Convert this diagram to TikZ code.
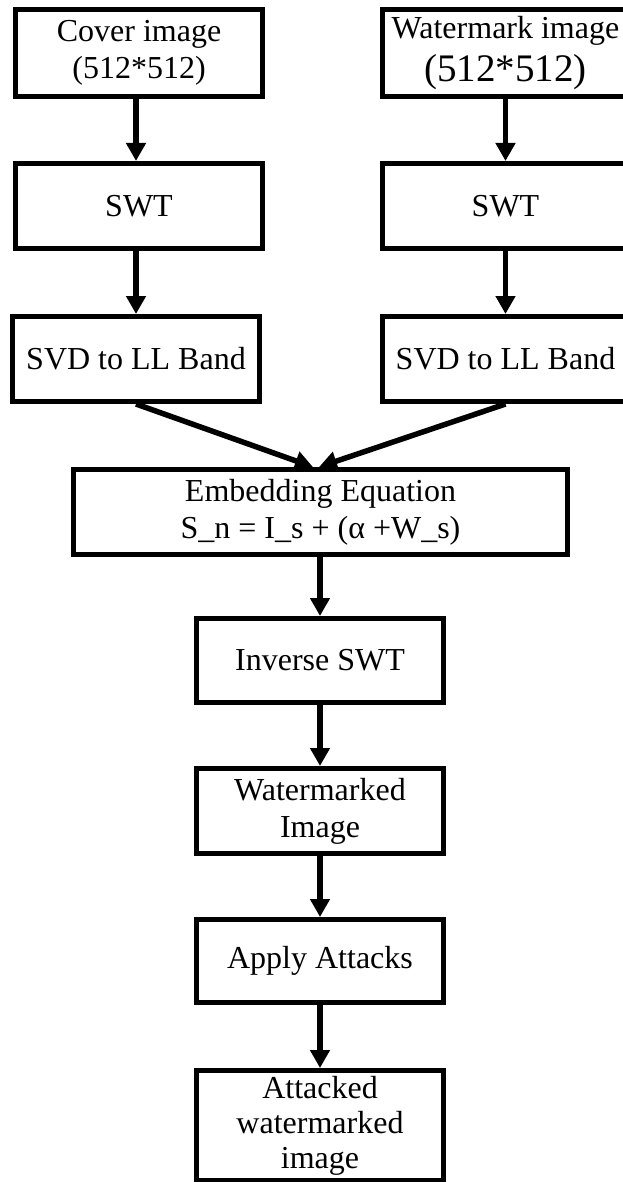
\documentclass[tikz,border=0pt]{standalone}
\usepackage{fontspec}
\setmainfont{Liberation Serif}
\usetikzlibrary{arrows.meta}
\tikzset{
  box/.style={draw=black, line width=5pt, inner sep=0pt, align=center,
    minimum width=247pt, font=\fontsize{32}{37}\selectfont},
  flow/.style={line width=5.5pt, -{Triangle[length=18pt,width=19pt]}}
}
\begin{document}
\begin{tikzpicture}[x=1pt,y=-1pt]
\useasboundingbox (0,0) rectangle (623,1182);
\clip (0,0) rectangle (623,1182);
\node[box, minimum height=87pt] (cover) at (139,53) {Cover image\\(512*512)};
\node[box, minimum height=87pt] (wm) at (505.5,53) {Watermark image\\[6pt]{\fontsize{39}{45}\selectfont (512*512)}};
\node[box, minimum height=85pt] (swtL) at (139,206) {SWT};
\node[box, minimum height=85pt] (swtR) at (505.5,206) {SWT};
\node[box, minimum height=85pt] (svdL) at (136,359) {SVD to LL Band};
\node[box, minimum height=85pt] (svdR) at (505.5,359) {SVD to LL Band};
\node[box, minimum height=85pt, minimum width=494pt] (emb) at (320.5,512) {Embedding Equation\\S\_n = I\_s + (α +W\_s)};
\node[box, minimum height=84pt] (inv) at (320,660.5) {Inverse SWT};
\node[box, minimum height=85pt] (wmd) at (320,811) {Watermarked\\Image};
\node[box, minimum height=83pt] (att) at (320,961) {Apply Attacks};
\node[box, minimum height=110pt, font=\fontsize{32}{35}\selectfont] (atk) at (320,1125.5) {Attacked\\watermarked\\image};
\coordinate (embInL) at ([xshift=-7.5pt]emb.north);
\coordinate (embInR) at ([xshift=-1.5pt]emb.north);
\draw[flow] (cover.south -| svdL.center) -- (swtL.north -| svdL.center);
\draw[flow] (swtL.south -| svdL.center) -- (svdL.north);
\draw[flow] (wm.south) -- (swtR.north);
\draw[flow] (swtR.south) -- (svdR.north);
\draw[flow] (svdL.south) -- (embInL);
\draw[flow] (svdR.south) -- (embInR);
\draw[flow] (emb.south -| inv.north) -- (inv.north);
\draw[flow] (inv.south) -- (wmd.north);
\draw[flow] (wmd.south) -- (att.north);
\draw[flow] (att.south) -- (atk.north);
\end{tikzpicture}
\end{document}
